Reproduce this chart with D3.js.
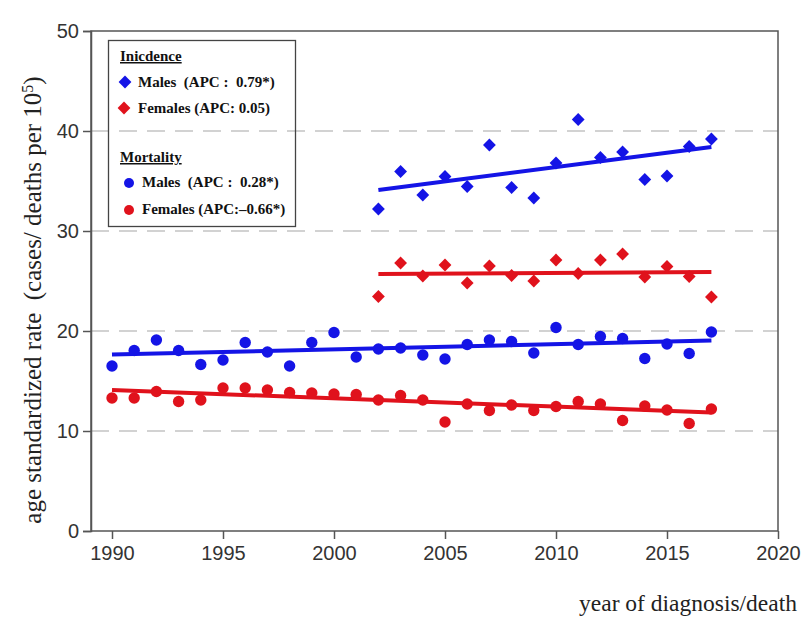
<!DOCTYPE html>
<html>
<head>
<meta charset="utf-8">
<script src="https://cdn.jsdelivr.net/npm/d3@7"></script>
<style>
  html, body { margin: 0; padding: 0; background: #fff; }
  svg { display: block; }
  text { white-space: pre; }
</style>
</head>
<body>
<svg id="chart" width="801" height="619"></svg>
<script>
// ---------- DATA ----------
const incYears = [2002,2003,2004,2005,2006,2007,2008,2009,2010,2011,2012,2013,2014,2015,2016,2017];
const incMales = [32.2,35.95,33.6,35.45,34.45,38.6,34.35,33.3,36.8,41.15,37.35,37.9,35.15,35.5,38.45,39.2];
const incFemales = [23.45,26.8,25.5,26.6,24.8,26.5,25.55,25.0,27.1,25.75,27.1,27.7,25.4,26.45,25.45,23.4];

const mortYears = [1990,1991,1992,1993,1994,1995,1996,1997,1998,1999,2000,2001,2002,2003,2004,2005,2006,2007,2008,2009,2010,2011,2012,2013,2014,2015,2016,2017];
const mortMales = [16.5,18.05,19.1,18.05,16.65,17.1,18.85,17.9,16.5,18.85,19.85,17.4,18.2,18.3,17.6,17.2,18.65,19.1,18.95,17.8,20.35,18.65,19.45,19.25,17.25,18.7,17.75,19.9];
const mortFemales = [13.3,13.3,13.95,12.95,13.1,14.3,14.3,14.1,13.85,13.8,13.7,13.65,13.1,13.55,13.1,10.9,12.7,12.05,12.6,12.05,12.45,12.95,12.7,11.05,12.5,12.1,10.75,12.2];

// trend lines: [startYear, endYear] and fitted values at ends
const incTrendYears = [2002, 2017];
const incMalesTrend = [34.1, 38.4];
const incFemalesTrend = [25.7, 25.9];
const mortTrendYears = [1990, 2017];
const mortMalesTrend = [17.65, 19.05];
const mortFemalesTrend = [14.1, 11.85];

const xTicks = [1990,1995,2000,2005,2010,2015,2020];
const yTicks = [0,10,20,30,40,50];
const gridTicks = [10,20,30,40];

const legendLabels = {
  incTitle: "Inicdence",
  incMales: "Males  (APC :  0.79*)",
  incFemales: "Females (APC: 0.05)",
  mortTitle: "Mortality",
  mortMales: "Males  (APC :  0.28*)",
  mortFemales: "Females (APC:\u20130.66*)"
};

// ---------- LAYOUT ----------
const BLUE = "#1414e6";
const RED = "#e0121c";
const pLeft = 91, pRight = 778, pTop = 31, pBottom = 531;

const svg = d3.select("#chart");
const x = d3.scaleLinear().domain([1990, 2020]).range([112, pRight]);
const y = d3.scaleLinear().domain([0, 50]).range([pBottom, pTop]);

// gridlines
svg.append("g").selectAll("line").data(gridTicks).join("line")
  .attr("x1", pLeft).attr("x2", pRight)
  .attr("y1", d => y(d)).attr("y2", d => y(d))
  .attr("stroke", "#c4c4c4").attr("stroke-width", 1.3)
  .attr("stroke-dasharray", "18,10");

// frame
svg.append("rect").attr("x", pLeft).attr("y", pTop)
  .attr("width", pRight - pLeft).attr("height", pBottom - pTop)
  .attr("fill", "none").attr("stroke", "#555").attr("stroke-width", 1.5);

// axes
const yAxis = svg.append("g").attr("transform", `translate(${pLeft},0)`)
  .call(d3.axisLeft(y).tickValues(yTicks).tickSize(8).tickPadding(4).tickFormat(d3.format("d")));
yAxis.select(".domain").attr("stroke", "#555").attr("stroke-width", 1.5);
yAxis.selectAll(".tick line").attr("stroke", "#555").attr("stroke-width", 1.5);
yAxis.selectAll(".tick text").attr("font-family", "Liberation Sans, Arial, sans-serif")
  .attr("font-size", 20).attr("fill", "#333");

const xAxis = svg.append("g").attr("transform", `translate(0,${pBottom})`)
  .call(d3.axisBottom(x).tickValues(xTicks).tickSize(8).tickPadding(7).tickFormat(d3.format("d")));
xAxis.select(".domain").remove();
xAxis.selectAll(".tick line").attr("stroke", "#555").attr("stroke-width", 1.5);
xAxis.selectAll(".tick text").attr("font-family", "Liberation Sans, Arial, sans-serif")
  .attr("font-size", 20).attr("fill", "#333");

// axis titles
svg.append("text")
  .attr("transform", "translate(41,300) rotate(-90)")
  .attr("text-anchor", "middle")
  .attr("font-family", "Liberation Serif, Times New Roman, serif")
  .attr("font-size", 25).attr("fill", "#222")
  .html('age standardized rate  (cases/ deaths per 10<tspan baseline-shift="super" font-size="16">5</tspan>)');

svg.append("text")
  .attr("x", 797).attr("y", 611).attr("text-anchor", "end")
  .attr("font-family", "Liberation Serif, Times New Roman, serif")
  .attr("font-size", 23.5).attr("fill", "#222")
  .text("year of diagnosis/death");

// trend lines
const line = d3.line().x(d => x(d[0])).y(d => y(d[1]));
function trend(years, vals, color) {
  svg.append("path").datum(years.map((yr, i) => [yr, vals[i]]))
    .attr("d", line).attr("fill", "none").attr("stroke", color)
    .attr("stroke-width", 4).attr("stroke-linecap", "butt");
}
trend(mortTrendYears, mortMalesTrend, BLUE);
trend(mortTrendYears, mortFemalesTrend, RED);
trend(incTrendYears, incMalesTrend, BLUE);
trend(incTrendYears, incFemalesTrend, RED);

// markers
const diamond = d3.symbol().type(d3.symbolSquare).size(82);
function diamonds(years, vals, color) {
  svg.append("g").selectAll("path").data(years.map((yr, i) => [yr, vals[i]])).join("path")
    .attr("d", diamond)
    .attr("transform", d => `translate(${x(d[0])},${y(d[1])}) rotate(45)`)
    .attr("fill", color);
}
function circles(years, vals, color) {
  svg.append("g").selectAll("circle").data(years.map((yr, i) => [yr, vals[i]])).join("circle")
    .attr("cx", d => x(d[0])).attr("cy", d => y(d[1])).attr("r", 5.7)
    .attr("fill", color);
}
circles(mortYears, mortMales, BLUE);
circles(mortYears, mortFemales, RED);
diamonds(incYears, incMales, BLUE);
diamonds(incYears, incFemales, RED);

// legend
const lg = svg.append("g");
lg.append("rect").attr("x", 108.5).attr("y", 40.5).attr("width", 187).attr("height", 186)
  .attr("fill", "none").attr("stroke", "#444").attr("stroke-width", 1.3);
const lf = "Liberation Serif, Times New Roman, serif";
function ltext(tx, ty, s, underline) {
  lg.append("text").attr("x", tx).attr("y", ty).attr("font-family", lf)
    .attr("font-size", 15).attr("font-weight", "bold").attr("fill", "#111")
    .attr("text-decoration", underline ? "underline" : null)
    .text(s);
}
ltext(120, 61, legendLabels.incTitle, true);
lg.append("path").attr("d", diamond).attr("transform", "translate(125,82) rotate(45)").attr("fill", BLUE);
ltext(138, 87, legendLabels.incMales);
lg.append("path").attr("d", diamond).attr("transform", "translate(124,108) rotate(45)").attr("fill", RED);
ltext(138, 113, legendLabels.incFemales);
ltext(120, 162, legendLabels.mortTitle, true);
lg.append("circle").attr("cx", 129).attr("cy", 183).attr("r", 5).attr("fill", BLUE);
ltext(142, 187, legendLabels.mortMales);
lg.append("circle").attr("cx", 129).attr("cy", 210).attr("r", 5).attr("fill", RED);
ltext(142, 214, legendLabels.mortFemales);
</script>
</body>
</html>
